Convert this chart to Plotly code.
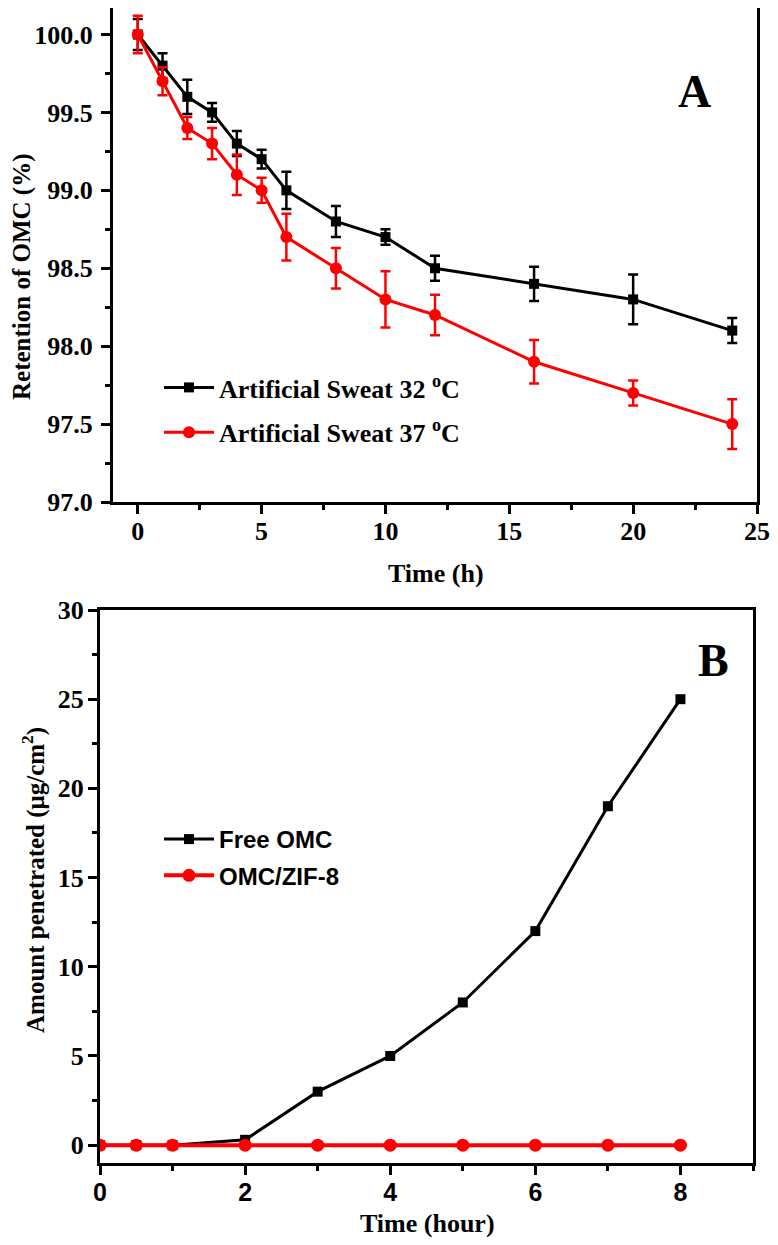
import plotly.graph_objects as go

# ---------- Panel A data ----------
time_a = [0, 1, 2, 3, 4, 5, 6, 8, 10, 12, 16, 20, 24]
ret_32 = [100.0, 99.8, 99.6, 99.5, 99.3, 99.2, 99.0, 98.8, 98.7, 98.5, 98.4, 98.3, 98.1]
err_32 = [0.10, 0.08, 0.11, 0.06, 0.08, 0.06, 0.12, 0.10, 0.05, 0.08, 0.11, 0.16, 0.08]
ret_37 = [100.0, 99.7, 99.4, 99.3, 99.1, 99.0, 98.7, 98.5, 98.3, 98.2, 97.9, 97.7, 97.5]
err_37 = [0.12, 0.09, 0.07, 0.10, 0.13, 0.08, 0.15, 0.13, 0.18, 0.13, 0.14, 0.08, 0.16]
name_32 = "Artificial Sweat 32 <sup>o</sup>C"
name_37 = "Artificial Sweat 37 <sup>o</sup>C"

# ---------- Panel B data ----------
time_b = [0, 0.5, 1, 2, 3, 4, 5, 6, 7, 8]
free_omc = [0, 0, 0, 0.3, 3, 5, 8, 12, 19, 25]
omc_zif = [0, 0, 0, 0, 0, 0, 0, 0, 0, 0]
name_free = "Free OMC"
name_zif = "OMC/ZIF-8"

SERIF = "Liberation Serif"
SANS = "Liberation Sans"
BLACK = "#000000"
RED = "#ff0000"

OFF = 8  # page body margin in the browser
W, H = 778 - 2 * OFF, 1245 - 2 * OFF

def clamp(v):
    return min(1.0, max(0.0, v))

def px_x(p):
    return clamp((p - OFF) / W)

def px_y(p):
    return clamp(1 - (p - OFF) / H)

fig = go.Figure()

fig.add_trace(go.Scatter(
    x=time_a, y=ret_32, name=name_32, mode="lines+markers",
    line=dict(color=BLACK, width=3),
    marker=dict(symbol="square", size=10, color=BLACK),
    error_y=dict(type="data", array=err_32, color=BLACK, thickness=2.5, width=5),
    xaxis="x", yaxis="y", legend="legend", legendgroup="a1",
))
fig.add_trace(go.Scatter(
    x=time_a, y=ret_37, name=name_37, mode="lines+markers",
    line=dict(color=RED, width=3),
    marker=dict(symbol="circle", size=12, color=RED),
    error_y=dict(type="data", array=err_37, color=RED, thickness=2.5, width=5),
    xaxis="x", yaxis="y", legend="legend", legendgroup="a2",
))
fig.add_trace(go.Scatter(
    x=time_b, y=free_omc, name=name_free, mode="lines+markers",
    line=dict(color=BLACK, width=3),
    marker=dict(symbol="square", size=10, color=BLACK),
    xaxis="x2", yaxis="y2", legend="legend2", legendgroup="b1",
))
fig.add_trace(go.Scatter(
    x=time_b, y=omc_zif, name=name_zif, mode="lines+markers",
    line=dict(color=RED, width=4),
    marker=dict(symbol="circle", size=13, color=RED),
    xaxis="x2", yaxis="y2", legend="legend2", legendgroup="b2",
))

serif_tick = dict(family=SERIF, size=26, color=BLACK, weight="bold")
sans_tick = dict(family=SANS, size=25, color=BLACK, weight="bold")

common_axis = dict(
    showline=True, linecolor=BLACK, linewidth=3, mirror=True,
    ticks="outside", ticklen=9, tickwidth=2.5, tickcolor=BLACK,
    showgrid=False, zeroline=False, automargin=False,
)

fig.update_layout(
    width=W, height=H,
    margin=dict(l=0, r=0, t=0, b=0, pad=0, autoexpand=False),
    paper_bgcolor="white", plot_bgcolor="white",
    xaxis=dict(domain=[px_x(113), px_x(757)], range=[-1, 25], tick0=0, dtick=5,
               anchor="y", tickfont=serif_tick, ticklabelstandoff=-5,
               minor=dict(ticks="outside", ticklen=5, tickwidth=2.5, dtick=2.5, tick0=0, tickcolor=BLACK),
               **common_axis),
    yaxis=dict(domain=[px_y(502), px_y(8)], range=[97.0, 100.17], tick0=97, dtick=0.5,
               tickformat=".1f", anchor="x", tickfont=serif_tick, ticklabelstandoff=3,
               minor=dict(ticks="outside", ticklen=5, tickwidth=2.5, dtick=0.25, tick0=97, tickcolor=BLACK),
               **common_axis),
    xaxis2=dict(domain=[px_x(100), px_x(753)], range=[0, 9], tick0=0, dtick=2,
                anchor="y2", tickfont=sans_tick, ticklabelstandoff=-4,
                minor=dict(ticks="outside", ticklen=5, tickwidth=2.5, dtick=1, tick0=0, tickcolor=BLACK),
                **common_axis),
    yaxis2=dict(domain=[px_y(1163), px_y(610)], range=[-1, 30], tick0=0, dtick=5,
                anchor="x2", tickfont=serif_tick, ticklabelstandoff=-1,
                minor=dict(ticks="outside", ticklen=5, tickwidth=2.5, dtick=2.5, tick0=0, tickcolor=BLACK),
                **common_axis),
    legend=dict(x=px_x(159), y=px_y(364), xanchor="left", yanchor="top",
                bgcolor="rgba(0,0,0,0)", borderwidth=0,
                font=dict(family=SERIF, size=26, color=BLACK, weight="bold"),
                tracegroupgap=8, traceorder="grouped", itemwidth=50),
    legend2=dict(x=px_x(159), y=px_y(817), xanchor="left", yanchor="top",
                 bgcolor="rgba(0,0,0,0)", borderwidth=0,
                 font=dict(family=SANS, size=24, color=BLACK, weight="bold"),
                 tracegroupgap=2, traceorder="grouped", itemwidth=50),
    showlegend=True,
    annotations=[
        dict(text="Retention of OMC (%)", x=px_x(22), y=px_y(277), xref="paper", yref="paper",
             textangle=-90, showarrow=False, xanchor="center", yanchor="middle",
             font=dict(family=SERIF, size=25, color=BLACK, weight="bold")),
        dict(text="Time (h)", x=px_x(436), y=px_y(573), xref="paper", yref="paper",
             showarrow=False, xanchor="center", yanchor="middle",
             font=dict(family=SERIF, size=26, color=BLACK, weight="bold")),
        dict(text="A", x=px_x(694), y=px_y(91), xref="paper", yref="paper",
             showarrow=False, xanchor="center", yanchor="middle",
             font=dict(family=SERIF, size=46, color=BLACK, weight="bold")),
        dict(text="Amount penetrated (\u03bcg/cm<sup>2</sup>)", x=px_x(33), y=px_y(880),
             xref="paper", yref="paper", textangle=-90, showarrow=False,
             xanchor="center", yanchor="middle",
             font=dict(family=SERIF, size=25, color=BLACK, weight="bold")),
        dict(text="Time (hour)", x=px_x(427), y=px_y(1223), xref="paper", yref="paper",
             showarrow=False, xanchor="center", yanchor="middle",
             font=dict(family=SERIF, size=26, color=BLACK, weight="bold")),
        dict(text="B", x=px_x(713), y=px_y(660), xref="paper", yref="paper",
             showarrow=False, xanchor="center", yanchor="middle",
             font=dict(family=SERIF, size=46, color=BLACK, weight="bold")),
    ],
)

fig.write_html("out.html")
